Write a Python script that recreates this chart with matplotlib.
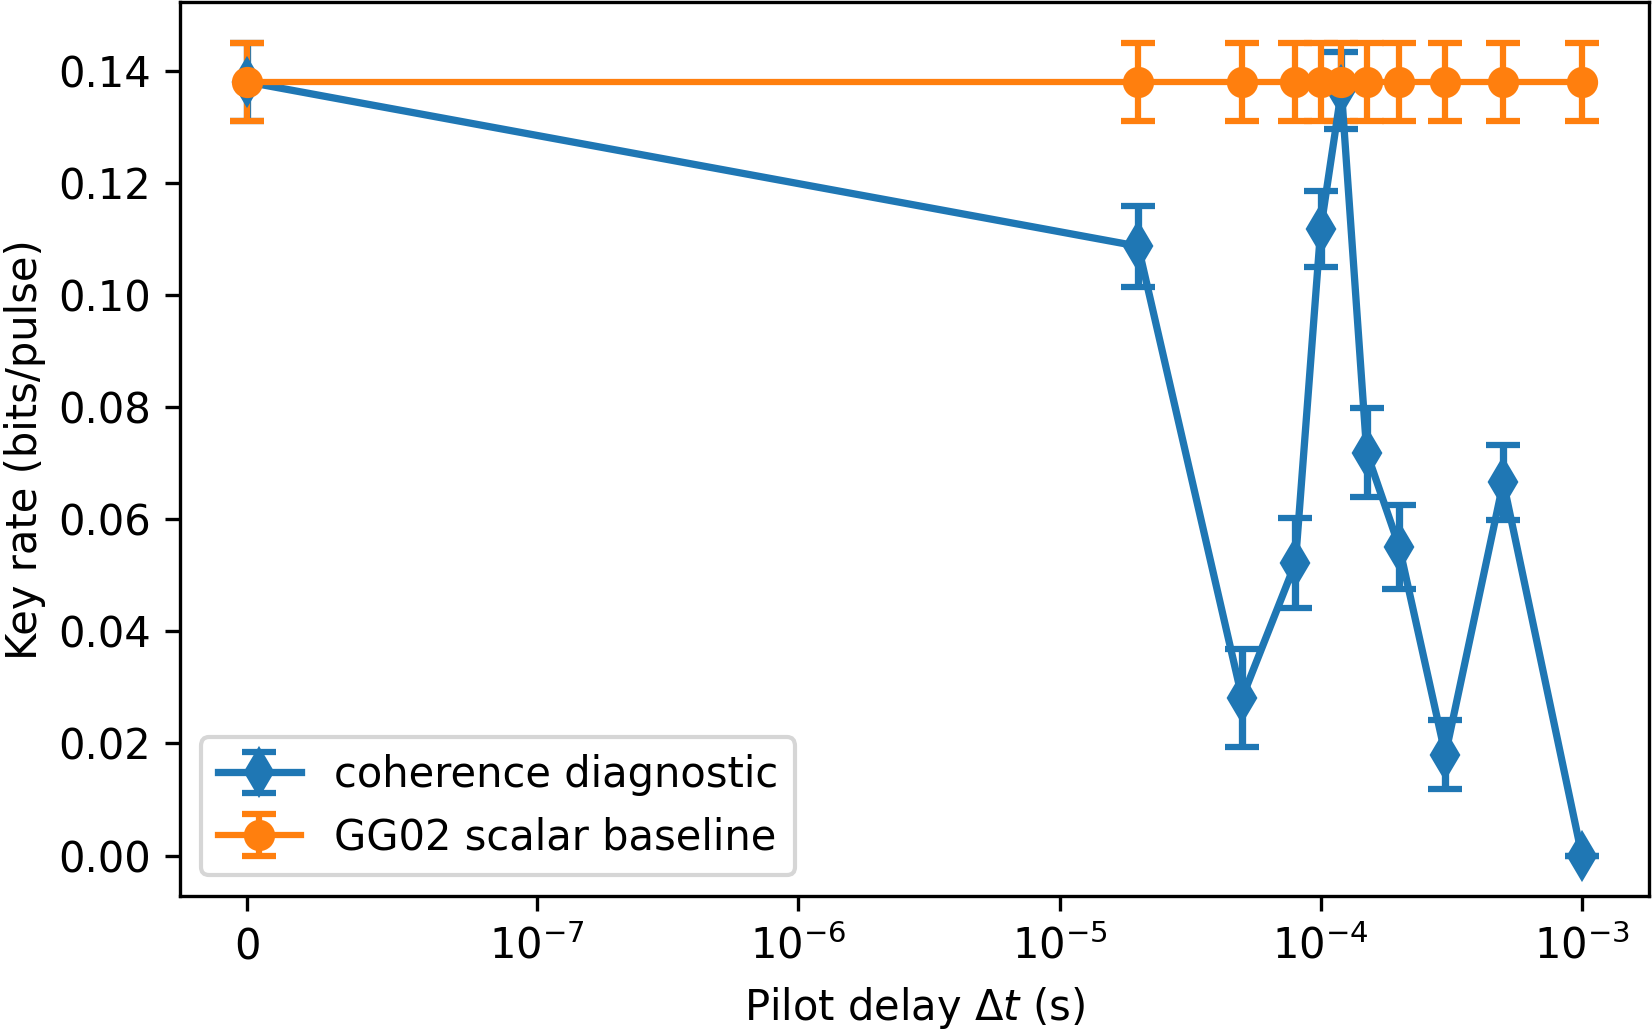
import matplotlib
matplotlib.use("Agg")
import matplotlib.pyplot as plt

delays = [0, 2e-5, 5e-5, 8e-5, 1e-4, 1.2e-4, 1.5e-4, 2e-4, 3e-4, 5e-4, 1e-3]
coh_rate = [0.138, 0.1087, 0.0281, 0.0522, 0.1118, 0.1365, 0.0719, 0.0550, 0.0180, 0.0666, 0.0]
coh_err = [0.007, 0.0072, 0.0088, 0.0080, 0.0068, 0.0069, 0.0080, 0.0075, 0.0062, 0.0067, 0.0]
base_rate = [0.138] * len(delays)
base_err = [0.007] * len(delays)

fig = plt.figure(figsize=(1652 / 300, 1029 / 300), dpi=300)
ax = fig.add_axes([0.109, 0.129, 0.889, 0.869])

ax.errorbar(delays, coh_rate, yerr=coh_err, marker='d', markersize=7.5, lw=1.75,
            capsize=4, capthick=1.5, color='#1f77b4', label='coherence diagnostic')
ax.errorbar(delays, base_rate, yerr=base_err, marker='o', markersize=6.5, lw=1.5,
            capsize=4, capthick=1.5, color='#ff7f0e', label='GG02 scalar baseline')

ax.set_xscale('symlog', linthresh=1e-7, linscale=1)
ax.set_xticks([0, 1e-7, 1e-6, 1e-5, 1e-4, 1e-3])
ax.set_xlabel(r'Pilot delay $\Delta t$ (s)')
ax.set_ylabel('Key rate (bits/pulse)', labelpad=3)
ax.legend(loc='lower left', fontsize=10)

fig.savefig('out.png', dpi=300)
